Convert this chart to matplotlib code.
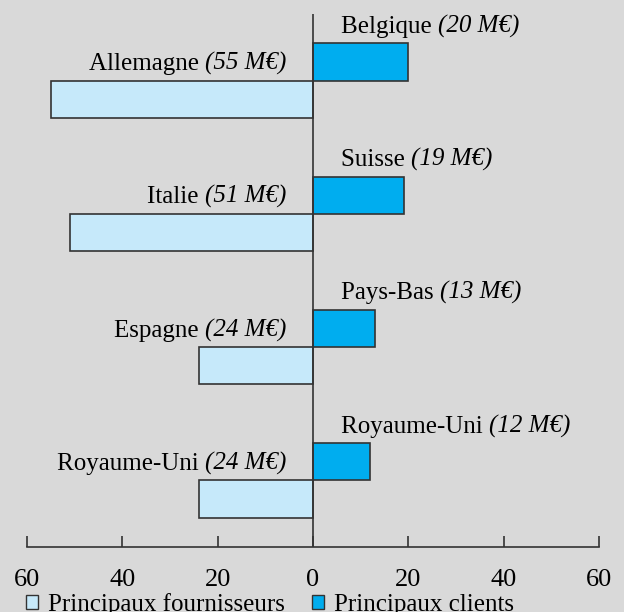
import matplotlib
matplotlib.use("Agg")
import matplotlib.pyplot as plt
from matplotlib.patches import Patch
from matplotlib.ticker import FuncFormatter

# principal clients (exports) and suppliers (imports), in M€
clients = ["Belgique", "Suisse", "Pays-Bas", "Royaume-Uni"]
clients_val = [20, 19, 13, 12]
fournisseurs = ["Allemagne", "Italie", "Espagne", "Royaume-Uni"]
fournisseurs_val = [55, 51, 24, 24]
ticks = [-60, -40, -20, 0, 20, 40, 60]

bg = "#d9d9d9"
c_four = "#c6e9fa"
c_cli = "#00adef"
edge = "#333333"

plt.rcParams["font.family"] = ["Liberation Serif", "DejaVu Serif"]
plt.rcParams["font.size"] = 18

fig = plt.figure(figsize=(6.24, 6.12), dpi=100, facecolor=bg)
ax = fig.add_axes([27 / 624, 1 - 547 / 612, 572 / 624, 533 / 612])
ax.set_facecolor(bg)

pos = [3, 2, 1, 0]
h = 0.28
ax.barh(pos, clients_val, height=h, align="edge", color=c_cli,
        edgecolor=edge, lw=1.2)
ax.barh(pos, [-v for v in fournisseurs_val], height=-h, align="edge",
        color=c_four, edgecolor=edge, lw=1.2)
ax.axvline(0, color=edge, lw=1.2)

for p, name, v in zip(pos, clients, clients_val):
    t1 = ax.annotate(name + " ", xy=(0, p + h), xytext=(20, 4),
                     textcoords="offset points", ha="left", va="bottom")
    ax.annotate("(%d M€)" % v, xy=(1, 0), xycoords=t1, ha="left",
                va="bottom", style="italic")

for p, name, v in zip(pos, fournisseurs, fournisseurs_val):
    t2 = ax.annotate("(%d M€)" % v, xy=(0, p), xytext=(-19, 4),
                     textcoords="offset points", ha="right", va="bottom",
                     style="italic")
    ax.annotate(name + " ", xy=(0, 0), xycoords=t2, ha="right", va="bottom")

ax.set_xlim(-60, 60)
ax.set_ylim(-0.5, 3.5)
ax.set_xticks(ticks)
ax.xaxis.set_major_formatter(FuncFormatter(lambda x, _: "%d" % abs(x)))
ax.tick_params(axis="x", direction="in", length=8, width=1.2, color=edge,
               pad=16, labelsize=19)
ax.set_yticks([])
for s in ["top", "left", "right"]:
    ax.spines[s].set_visible(False)
ax.spines["bottom"].set_color(edge)
ax.spines["bottom"].set_linewidth(1.2)

handles = [Patch(facecolor=c_four, edgecolor=edge, label="Principaux fournisseurs"),
           Patch(facecolor=c_cli, edgecolor=edge, label="Principaux clients")]
fig.legend(handles=handles, loc="lower left", bbox_to_anchor=(8 / 624, -21 / 612),
           ncol=2, frameon=False, fontsize=18, handlelength=0.48,
           handleheight=0.48, handletextpad=0.4, columnspacing=1.1,
           borderpad=0.2)

fig.savefig("out.png", dpi=100, facecolor=bg)
